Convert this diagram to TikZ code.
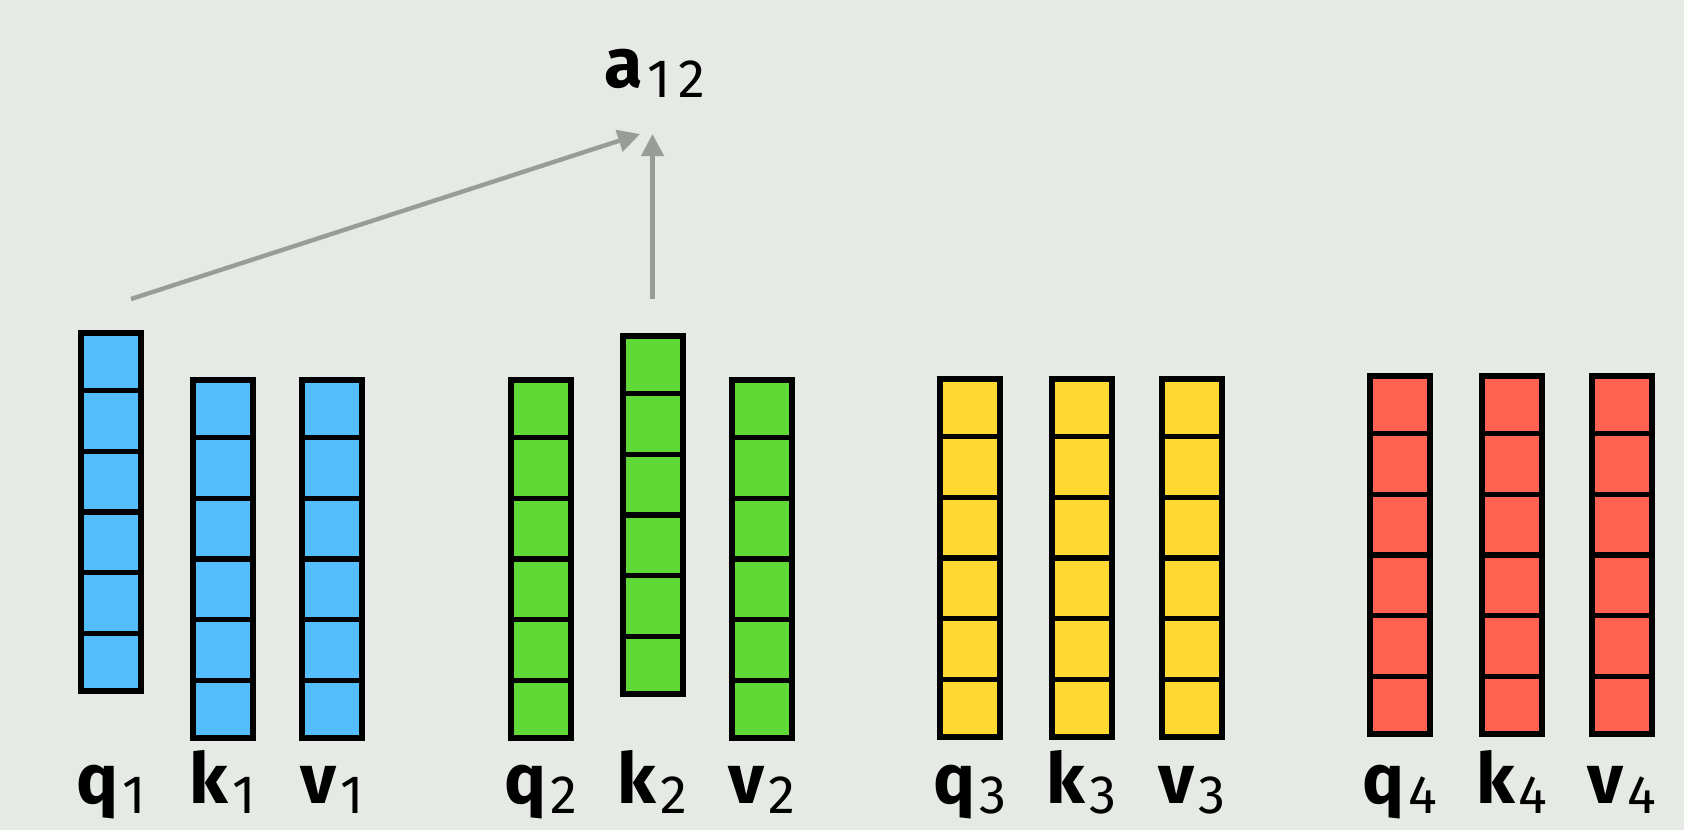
\documentclass[tikz,border=0pt]{standalone}
\usepackage{fontspec}
\setmainfont{Fira Sans}
\usepackage{xcolor}
\definecolor{slideback}{RGB}{230,234,228}
\definecolor{qkvblue}{RGB}{84,190,252}
\definecolor{qkvgreen}{RGB}{96,216,54}
\definecolor{qkvyellow}{RGB}{255,216,50}
\definecolor{qkvred}{RGB}{255,98,80}
\definecolor{arrowgray}{RGB}{154,156,154}
\usetikzlibrary{positioning,arrows.meta,calc}

\newcommand{\veclabel}[2]{{\fontsize{35}{36}\selectfont\bfseries #1}\kern2pt\raisebox{-5pt}{\fontsize{27}{27}\selectfont #2}}
\newcommand{\qkvcol}[5]{%
  \node[vec,fill=#5] (#1#2) at (#3,#4) {};
  \foreach \i in {1,...,5}
    \draw[cell] ($(#1#2.north west)!\i/6!(#1#2.south west)$) -- ($(#1#2.north east)!\i/6!(#1#2.south east)$);
  \node[lbl] (l#1#2) at (#3,803) {\veclabel{#1}{#2}};
}

\begin{document}
\begin{tikzpicture}[x=0.5pt,y=-0.5pt,
      vec/.style={draw=black,line width=3pt,anchor=north,inner sep=0pt,
      minimum width=30pt,minimum height=179pt},
      cell/.style={draw=black,line width=2.6pt},
      lbl/.style={anchor=base,inner sep=0pt},
      arrow/.style={-{Triangle[length=11pt,width=11pt]},line width=2.2pt,draw=arrowgray}
    ]
    \fill[slideback] (0,0) rectangle (1684,830);
    \useasboundingbox (0,0) rectangle (1684,830);
    \qkvcol{q}{1}{111}{330}{qkvblue}
    \qkvcol{k}{1}{222.5}{377}{qkvblue}
    \qkvcol{v}{1}{332}{377}{qkvblue}
    \qkvcol{q}{2}{540.5}{377}{qkvgreen}
    \qkvcol{k}{2}{652.5}{333}{qkvgreen}
    \qkvcol{v}{2}{762}{377}{qkvgreen}
    \qkvcol{q}{3}{970}{376}{qkvyellow}
    \qkvcol{k}{3}{1081.5}{376}{qkvyellow}
    \qkvcol{v}{3}{1191.5}{376}{qkvyellow}
    \qkvcol{q}{4}{1400}{373}{qkvred}
    \qkvcol{k}{4}{1512}{373}{qkvred}
    \qkvcol{v}{4}{1622}{373}{qkvred}
    \node[lbl] (a12) at (655,87) {\veclabel{a}{1\kern4pt2}};
    \coordinate (a12in) at (640,134);
    \draw[arrow] ([shift={(20,-31)}]q1.north) -- (a12in);
    \draw[arrow] ([shift={(0,-34)}]k2.north) -- (k2.north |- a12in);
  \end{tikzpicture}
\end{document}
